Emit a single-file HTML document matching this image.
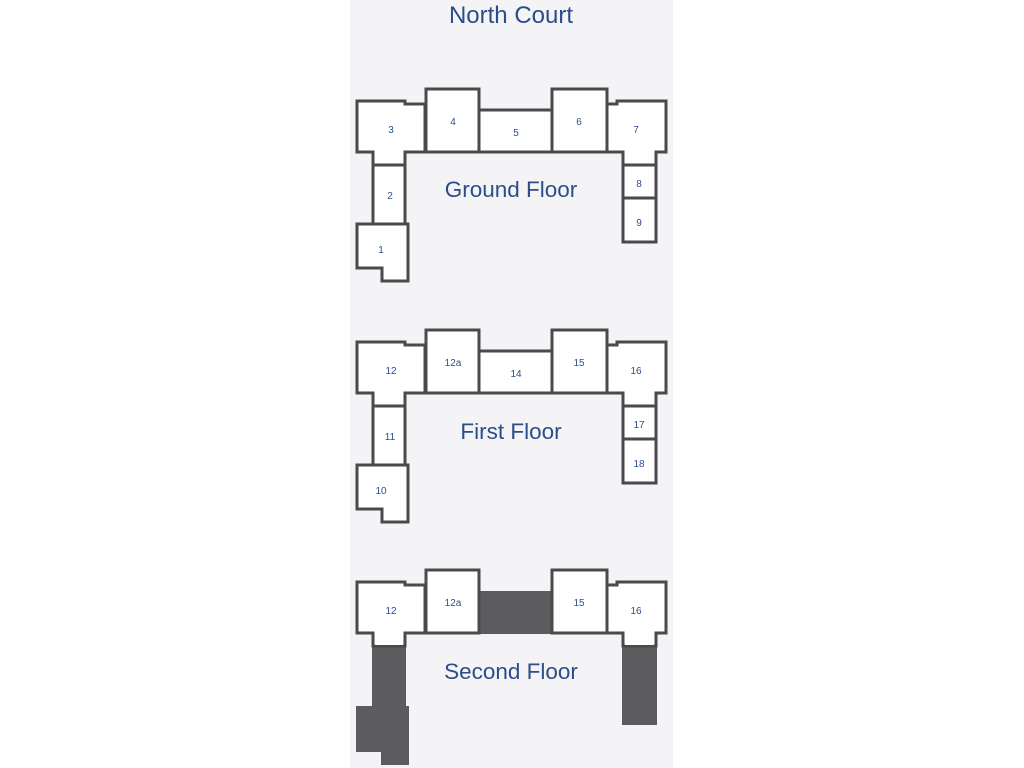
<!DOCTYPE html>
<html><head><meta charset="utf-8"><style>
html,body{margin:0;padding:0;background:#fff;width:1024px;height:768px;overflow:hidden}
svg{display:block}
text{font-family:"Liberation Sans",sans-serif;fill:#2d4d8a}
.r{fill:#fff;stroke:#4a4a4c;stroke-width:3;stroke-linejoin:miter}
.n{font-size:10px;text-anchor:middle}
.t{font-size:22.5px;text-anchor:middle}
.d{fill:#5c5c5e}
</style></head><body>
<svg width="1024" height="768" viewBox="0 0 1024 768">
<rect x="350" y="0" width="323" height="768" fill="#f4f4f6"/>
<text class="t" x="511" y="23" style="font-size:24px">North Court</text>

<defs>
<g id="shell">
<polygon class="r" points="357,101 405,101 405,104 425,104 425,152 405,152 405,165 373,165 373,152 357,152"/>
<rect class="r" x="426" y="89" width="53" height="63"/>
<rect class="r" x="479" y="110" width="73" height="42"/>
<rect class="r" x="552" y="89" width="55" height="63"/>
<polygon class="r" points="617,101 666,101 666,152 656,152 656,165 623,165 623,152 607,152 607,104 617,104"/>
</g>
</defs>

<g>
<use href="#shell"/>
<rect class="r" x="373" y="165" width="32" height="59"/>
<polygon class="r" points="357,224 408,224 408,281 382,281 382,268 357,268"/>
<rect class="r" x="623" y="165" width="33" height="33"/>
<rect class="r" x="623" y="198" width="33" height="44"/>
<text class="n" x="391" y="133">3</text>
<text class="n" x="453" y="125">4</text>
<text class="n" x="516" y="136">5</text>
<text class="n" x="579" y="125">6</text>
<text class="n" x="636" y="133">7</text>
<text class="n" x="390" y="199">2</text>
<text class="n" x="381" y="253">1</text>
<text class="n" x="639" y="187">8</text>
<text class="n" x="639" y="226">9</text>
<text class="t" x="511" y="197">Ground Floor</text>
</g>

<g transform="translate(0,241)">
<use href="#shell"/>
<rect class="r" x="373" y="165" width="32" height="59"/>
<polygon class="r" points="357,224 408,224 408,281 382,281 382,268 357,268"/>
<rect class="r" x="623" y="165" width="33" height="33"/>
<rect class="r" x="623" y="198" width="33" height="44"/>
<text class="n" x="391" y="133">12</text>
<text class="n" x="453" y="125">12a</text>
<text class="n" x="516" y="136">14</text>
<text class="n" x="579" y="125">15</text>
<text class="n" x="636" y="133">16</text>
<text class="n" x="390" y="199">11</text>
<text class="n" x="381" y="253">10</text>
<text class="n" x="639" y="187">17</text>
<text class="n" x="639" y="226">18</text>
<text class="t" x="511" y="198">First Floor</text>
</g>

<g transform="translate(0,481)">
<rect class="d" x="478" y="110" width="75" height="43"/>
<rect class="d" x="372" y="164" width="34" height="62"/>
<polygon class="d" points="356,225 409,225 409,284 381,284 381,271 356,271"/>
<rect class="d" x="622" y="164" width="35" height="80"/>
<polygon class="r" points="357,101 405,101 405,104 425,104 425,152 405,152 405,165 373,165 373,152 357,152"/>
<rect class="r" x="426" y="89" width="53" height="63"/>
<rect class="r" x="552" y="89" width="55" height="63"/>
<polygon class="r" points="617,101 666,101 666,152 656,152 656,165 623,165 623,152 607,152 607,104 617,104"/>
<rect x="375" y="150" width="28" height="14" fill="#fff"/>
<rect x="625" y="150" width="29" height="14" fill="#fff"/>
<text class="n" x="391" y="133">12</text>
<text class="n" x="453" y="125">12a</text>
<text class="n" x="579" y="125">15</text>
<text class="n" x="636" y="133">16</text>
<text class="t" x="511" y="198">Second Floor</text>
</g>
</svg>
</body></html>
